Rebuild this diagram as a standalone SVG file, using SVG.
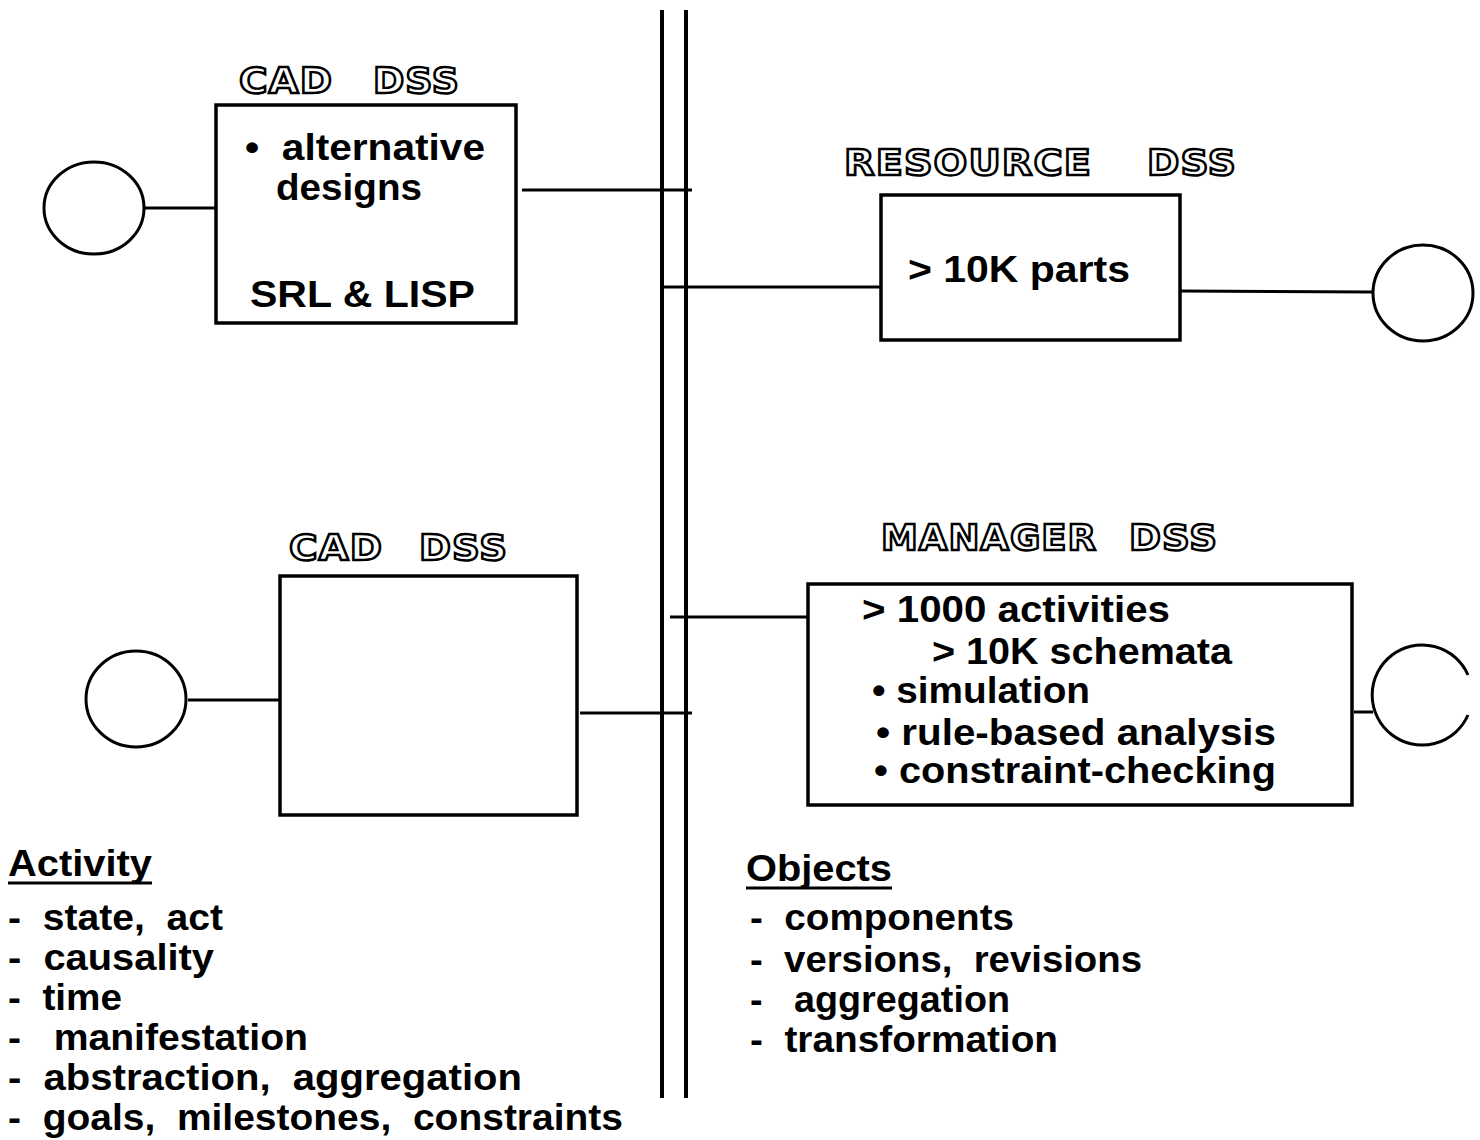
<svg xmlns="http://www.w3.org/2000/svg" width="1480" height="1140" viewBox="0 0 1480 1140">
<style>
text{white-space:pre}
.t{font-family:"Liberation Sans",Arial,sans-serif;font-weight:bold;font-size:37px;fill:#000}
.h{font-family:"DejaVu Sans",Verdana,sans-serif;font-weight:bold;font-size:36px;fill:#fff;stroke:#000;stroke-width:2.4;letter-spacing:1px}
.box{fill:none;stroke:#000;stroke-width:3.5}
.ln{fill:none;stroke:#000;stroke-width:3}
.cir{fill:none;stroke:#000;stroke-width:3}
.u{stroke:#000;stroke-width:3}
</style>
<rect width="1480" height="1140" fill="#fff"/>
<g id="bus">
<line class="ln" x1="662" y1="10" x2="662" y2="1098" style="stroke-width:4"/>
<line class="ln" x1="686" y1="10" x2="686" y2="1098" style="stroke-width:4"/>
</g>
<g id="connectors">
<line class="ln" x1="144" y1="208" x2="216" y2="208"/>
<line class="ln" x1="522" y1="190" x2="692" y2="190"/>
<line class="ln" x1="664" y1="287" x2="881" y2="287"/>
<line class="ln" x1="1180" y1="291" x2="1373" y2="292"/>
<line class="ln" x1="188" y1="700" x2="280" y2="700"/>
<line class="ln" x1="580" y1="713" x2="692" y2="713"/>
<line class="ln" x1="670" y1="617" x2="808" y2="617"/>
<line class="ln" x1="1354" y1="712" x2="1373" y2="712"/>
</g>
<g id="cad1">
<text class="h" x="239" y="93" textLength="94" lengthAdjust="spacingAndGlyphs">CAD</text>
<text class="h" x="373" y="93" textLength="87" lengthAdjust="spacingAndGlyphs">DSS</text>
<rect class="box" x="216" y="105" width="300" height="218"/>
<text class="t" x="245" y="160" textLength="240" lengthAdjust="spacingAndGlyphs">•  alternative</text>
<text class="t" x="276" y="200" textLength="146" lengthAdjust="spacingAndGlyphs">designs</text>
<text class="t" x="250" y="307" textLength="225" lengthAdjust="spacingAndGlyphs">SRL &amp; LISP</text>
</g>
<g id="user1"><ellipse class="cir" cx="94" cy="208" rx="50" ry="46"/></g>
<g id="resource">
<text class="h" x="844" y="175" textLength="248" lengthAdjust="spacingAndGlyphs">RESOURCE</text>
<text class="h" x="1147" y="175" textLength="90" lengthAdjust="spacingAndGlyphs">DSS</text>
<rect class="box" x="881" y="195" width="299" height="145"/>
<text class="t" x="908" y="282" textLength="222" lengthAdjust="spacingAndGlyphs">&gt; 10K parts</text>
</g>
<g id="user2"><ellipse class="cir" cx="1423" cy="293" rx="50" ry="48"/></g>
<g id="cad2">
<text class="h" x="289" y="560" textLength="94" lengthAdjust="spacingAndGlyphs">CAD</text>
<text class="h" x="419" y="560" textLength="89" lengthAdjust="spacingAndGlyphs">DSS</text>
<rect class="box" x="280" y="576" width="297" height="239"/>
</g>
<g id="user3"><ellipse class="cir" cx="136" cy="699" rx="50" ry="48"/></g>
<g id="manager">
<text class="h" x="881" y="550" textLength="216" lengthAdjust="spacingAndGlyphs">MANAGER</text>
<text class="h" x="1129" y="550" textLength="89" lengthAdjust="spacingAndGlyphs">DSS</text>
<rect class="box" x="808" y="584" width="544" height="221"/>
<text class="t" x="862" y="622" textLength="308" lengthAdjust="spacingAndGlyphs">&gt; 1000 activities</text>
<text class="t" x="932" y="664" textLength="300" lengthAdjust="spacingAndGlyphs">&gt; 10K schemata</text>
<text class="t" x="872" y="703" textLength="218" lengthAdjust="spacingAndGlyphs">• simulation</text>
<text class="t" x="876" y="745" textLength="400" lengthAdjust="spacingAndGlyphs">• rule-based analysis</text>
<text class="t" x="874" y="783" textLength="402" lengthAdjust="spacingAndGlyphs">• constraint-checking</text>
</g>
<g id="user4"><path class="cir" d="M1468,675 A50,50 0 1 0 1468,715"/></g>
<g id="activity">
<text class="t" x="8" y="876" textLength="144" lengthAdjust="spacingAndGlyphs">Activity</text>
<line class="u" x1="8" y1="883" x2="152" y2="883"/>
<text class="t" x="8" y="930" textLength="215" lengthAdjust="spacingAndGlyphs">-  state,  act</text>
<text class="t" x="8" y="970" textLength="206" lengthAdjust="spacingAndGlyphs">-  causality</text>
<text class="t" x="8" y="1010" textLength="114" lengthAdjust="spacingAndGlyphs">-  time</text>
<text class="t" x="8" y="1050" textLength="300" lengthAdjust="spacingAndGlyphs">-   manifestation</text>
<text class="t" x="8" y="1090" textLength="514" lengthAdjust="spacingAndGlyphs">-  abstraction,  aggregation</text>
<text class="t" x="8" y="1130" textLength="615" lengthAdjust="spacingAndGlyphs">-  goals,  milestones,  constraints</text>
</g>
<g id="objects">
<text class="t" x="746" y="881" textLength="146" lengthAdjust="spacingAndGlyphs">Objects</text>
<line class="u" x1="746" y1="888" x2="892" y2="888"/>
<text class="t" x="750" y="930" textLength="264" lengthAdjust="spacingAndGlyphs">-  components</text>
<text class="t" x="750" y="972" textLength="392" lengthAdjust="spacingAndGlyphs">-  versions,  revisions</text>
<text class="t" x="750" y="1012" textLength="260" lengthAdjust="spacingAndGlyphs">-   aggregation</text>
<text class="t" x="750" y="1052" textLength="308" lengthAdjust="spacingAndGlyphs">-  transformation</text>
</g>
</svg>
